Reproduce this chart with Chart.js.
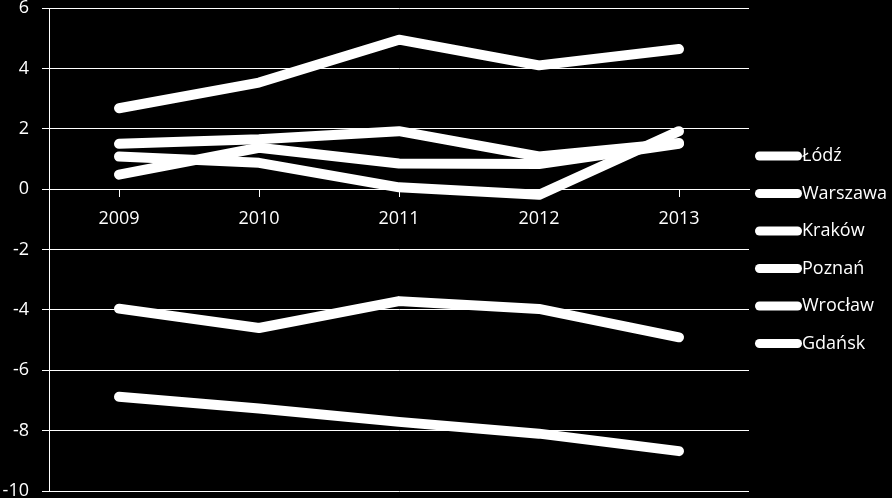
<!DOCTYPE html>
<html>
<head>
<meta charset="utf-8">
<script src="https://cdn.jsdelivr.net/npm/chart.js@4"></script>
<style>
  html, body { margin: 0; padding: 0; background: #000; }
  #wrap { width: 892px; height: 498px; }
</style>
</head>
<body>
<div id="wrap"><canvas id="chart"></canvas></div>
<script>
var years = ['2009', '2010', '2011', '2012', '2013'];

var lodz     = [2.68, 3.53, 4.95, 4.10, 4.64];
var warszawa = [1.50, 1.65, 1.92, 1.08, 1.53];
var krakow   = [1.08, 0.87, 0.06, -0.19, 1.92];
var poznan   = [0.48, 1.37, 0.85, 0.83, 1.50];
var wroclaw  = [-3.96, -4.60, -3.71, -3.97, -4.91];
var gdansk   = [-6.88, -7.27, -7.71, -8.10, -8.68];

var names = ['Łódź', 'Warszawa', 'Kraków', 'Poznań', 'Wrocław', 'Gdańsk'];
var series = [lodz, warszawa, krakow, poznan, wroclaw, gdansk];

var font = 'Open Sans';

// legend on the right, drawn by hand (rounded line + text)
var sideLegend = {
	id: 'sideLegend',
	afterDraw: function(chart) {
		var ctx = chart.ctx;
		ctx.save();
		ctx.font = '18px "' + font + '"';
		ctx.textBaseline = 'middle';
		ctx.textAlign = 'left';
		chart.data.datasets.forEach(function(ds, i) {
			var y = 156 + i * 37.5;
			ctx.strokeStyle = ds.borderColor;
			ctx.lineWidth = 9;
			ctx.lineCap = 'round';
			ctx.beginPath();
			ctx.moveTo(759.5, y);
			ctx.lineTo(797.5, y);
			ctx.stroke();
			ctx.fillStyle = '#fff';
			ctx.fillText(ds.label, 802, y);
		});
		ctx.restore();
	}
};

var ctx = document.getElementById('chart').getContext('2d');
var chart = new Chart(ctx, {
	type: 'line',
	data: {
		labels: years,
		datasets: series.map(function(d, i) {
			return {
				label: names[i],
				data: d,
				borderColor: '#fff',
				backgroundColor: '#fff',
				borderWidth: 10,
				borderCapStyle: 'round',
				borderJoinStyle: 'round',
				pointRadius: 0,
				tension: 0,
				fill: false
			};
		})
	},
	options: {
		responsive: true,
		maintainAspectRatio: false,
		animation: false,
		layout: { padding: { left: 3, top: 8, bottom: 7, right: 143 } },
		plugins: {
			legend: { display: false },
			tooltip: { enabled: false }
		},
		scales: {
			x: {
				type: 'category',
				position: { y: 0 },
				offset: true,
				grid: {
					display: true,
					drawOnChartArea: false,
					drawTicks: true,
					tickLength: 7,
					color: '#fff',
					lineWidth: 1
				},
				border: { display: true, color: '#fff', width: 1 },
				ticks: {
					color: '#fff',
					font: { family: font, size: 18 },
					padding: 12,
					maxRotation: 0
				},
				afterFit: function(s) {
					s.paddingLeft = 0;
					s.paddingRight = 0;
				}
			},
			y: {
				min: -10,
				max: 6,
				ticks: {
					stepSize: 2,
					color: '#fff',
					font: { family: font, size: 18 },
					padding: 13
				},
				grid: {
					color: '#fff',
					lineWidth: 1,
					tickLength: 7
				},
				border: { display: true, color: '#fff', width: 1 },
				afterFit: function(s) {
					s.width = 46;
					s.paddingTop = 0;
					s.paddingBottom = 0;
				}
			}
		}
	},
	plugins: [sideLegend]
});
</script>
</body>
</html>
